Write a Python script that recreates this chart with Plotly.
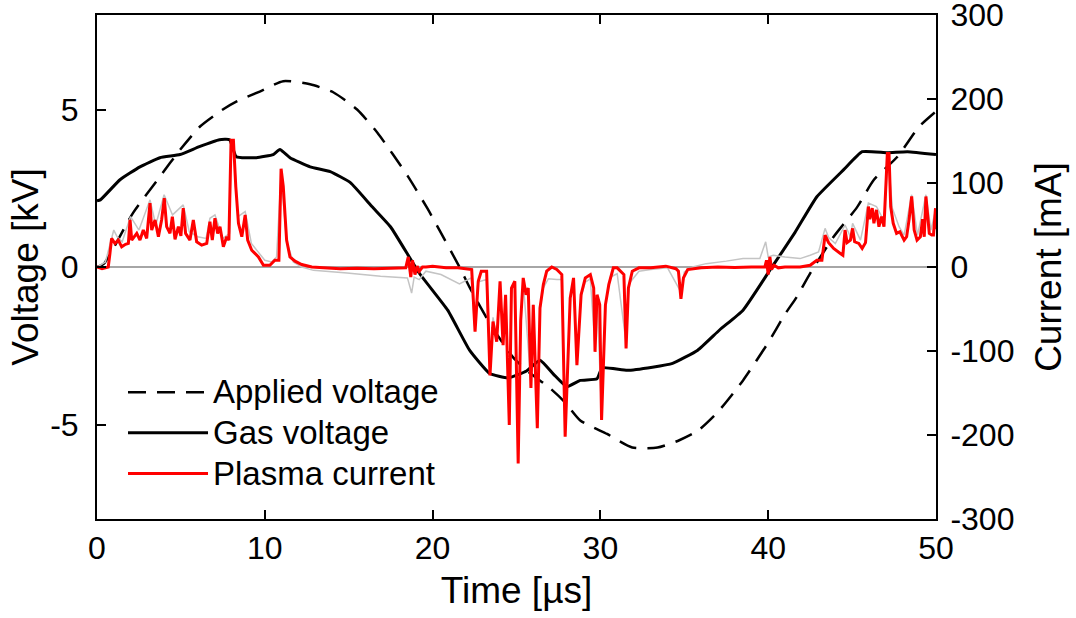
import plotly.graph_objects as go

# ---------------- data ----------------
t_applied = [0, 0.4, 2.15, 3.75, 4.95, 6.14, 7.5, 8.3, 9.7, 11.1, 12.7, 14.1, 15.5, 16.7,
             18.5, 19.7, 20.4, 21.6, 22.2, 23.4, 24.8, 25.6, 27.0, 27.9, 28.8, 30.4, 31.9,
             33.4, 34.7, 35.8, 37.0, 38.5, 40.0, 41.0, 41.7, 42.5, 43.9, 45.3, 46.3, 47.7,
             49.0, 50.0]
v_applied = [0, 0.1, 1.72, 2.87, 3.72, 4.46, 5.0, 5.25, 5.57, 5.9, 5.8, 5.54, 5.0, 4.27,
             2.9, 1.85, 1.18, 0.0, -0.64, -1.78, -2.87, -3.28, -3.85, -4.3, -4.87, -5.3, -5.73,
             -5.73, -5.5, -5.2, -4.6, -3.6, -2.4, -1.5, -0.95, -0.2, 0.96, 1.9, 2.77, 3.5,
             4.46, 4.94]

t_gas = [0, 0.2, 1.37, 2.56, 3.75, 4.95, 6.1, 7.3, 7.9, 8.3, 9.5, 10.5, 10.9, 11.5, 12.7,
         13.9, 15.1, 16.4, 17.5, 19.2, 20.9, 22.2, 23.4, 24.5, 25.6, 26.4, 27.2, 28.0, 28.8,
         29.8, 30.1, 31.6, 33.1, 34.3, 35.8, 37.1, 38.5, 40.1, 41.6, 42.9, 44.5, 45.6, 47.1,
         48.3, 50.0]
v_gas = [2.1, 2.13, 2.77, 3.18, 3.47, 3.57, 3.82, 4.04, 4.04, 3.5, 3.47, 3.57, 3.73, 3.47, 3.18,
         3.03, 2.68, 1.91, 1.27, -0.19, -1.37, -2.64, -3.38, -3.52, -3.3, -2.96, -3.4, -3.8, -3.6,
         -3.55, -3.2, -3.28, -3.18, -3.06, -2.64, -2.0, -1.37, -0.1, 1.1, 2.23, 3.09, 3.66, 3.63,
         3.66, 3.57]

t_cur = [0, 0.3, 0.5, 0.67, 0.77, 0.87, 1.07, 1.27, 1.47, 1.7, 1.87, 1.97, 2.07, 2.37, 2.56,
         2.76, 2.96, 3.16, 3.26, 3.46, 3.66, 3.85, 4.01, 4.15, 4.35, 4.49, 4.65, 4.85, 5.0,
         5.14, 5.28, 5.54, 5.74, 5.94, 6.24, 6.54, 6.73, 6.87, 7.03, 7.19, 7.33, 7.53, 7.73,
         7.86, 7.99, 8.13, 8.27, 8.43, 8.63, 8.83, 8.98, 9.22, 9.62, 9.92, 10.3, 10.6, 10.84,
         10.97, 11.1, 11.3, 11.5, 11.8, 12.2, 12.8, 13.5, 14.5, 15.5, 16.5, 17.5, 18.4, 18.55,
         18.7, 18.8, 18.95, 19.08, 19.2, 19.4, 19.6, 20.0, 20.8, 21.5, 22.0, 22.33, 22.53,
         22.72, 22.9, 23.22, 23.42, 23.6, 23.82, 24.02, 24.2, 24.35, 24.57, 24.7, 24.9, 25.1,
         25.25, 25.4, 25.57, 25.7, 25.86, 26.0, 26.24, 26.4, 26.6, 26.8, 27.1, 27.4, 27.7,
         27.9, 28.2, 28.4, 28.6, 28.85, 29.1, 29.4, 29.6, 29.68, 29.8, 29.96, 30.07, 30.3,
         30.5, 30.77, 31.0, 31.2, 31.4, 31.53, 31.67, 31.9, 32.3, 33.0, 33.9, 34.5, 34.65,
         34.8, 34.95, 35.2, 36.0, 37.0, 38.0, 39.0, 39.8, 39.9, 40.0, 40.1, 40.2, 40.35, 40.6,
         41.0, 41.9, 42.5, 42.9, 43.2, 43.39, 43.6, 43.9, 44.3, 44.45, 44.58, 44.7, 44.9,
         45.03, 45.15, 45.4, 45.6, 45.8, 45.97, 46.05, 46.2, 46.3, 46.45, 46.6, 46.75, 46.9,
         47.1, 47.2, 47.3, 47.45, 47.65, 47.85, 48.1, 48.25, 48.4, 48.55, 48.7, 48.87, 49.07,
         49.2, 49.3, 49.4, 49.6, 49.75, 49.85, 49.97, 50.0]
i_plasma = [0, -2, -1, 0, 16, 34, 28, 32, 24, 27, 28, 56, 32, 40, 32,
            44, 34, 76, 44, 56, 36, 56, 82, 48, 40, 60, 33, 48, 37,
            70, 40, 32, 56, 30, 26, 28, 54, 32, 58, 40, 48, 24, 36,
            32, 151, 151, 96, 52, 36, 62, 32, 20, 12, 2, 2, 8, 8,
            117, 96, 32, 12, 7, 3, 0, -1, -2, -1.5, -2, -1.5, -1, 12,
            -12, 8, -9, 1, -5, 0, 0, 1, -1, -1, -2, -3, -77,
            -17, -5, -5, -129, -65, -89, -17, -93, -33, -188, -25, -17, -234,
            -64, -13, -33, -25, -144, -45, -192, -49, -21, -5, 0, -3, -9,
            -202, -37, -13, -117, -33, -13, -9, -25, -101, -33, -45, -182, -45,
            -21, -1, -1, -5, -9, -97, -25, -5, -1, -1, 1, -2, -5,
            -38, -13, -3, -1, 0, -0.5, 0, 0, 8, -9, 12, -3, 2, -1,
            0, 0, 2, 8, 8, 38, 29, 22, 16, 14, 44, 29, 32,
            46, 30, 28, 22, 29, 72, 57, 70, 52, 68, 48, 60, 48,
            135, 135, 72, 52, 40, 42, 32, 36, 57, 84, 44, 32, 36,
            57, 36, 84, 40, 38, 38, 70, 45]

t_raw = [0, 0.5, 1.0, 1.2, 1.5, 2.0, 2.5, 3.16, 3.5, 4.0, 4.5, 5.14, 5.5, 6.0, 6.5, 6.73, 7.03,
         7.5, 7.9, 8.0, 8.13, 8.4, 8.83, 9.2, 9.6, 10.0, 10.4, 10.7, 10.97, 11.3, 11.7, 12.2,
         12.9, 14.9, 16.9, 18.5, 18.75, 18.9, 19.2, 19.6, 20.5, 21.6, 22.3, 22.5, 22.7, 23.2,
         23.42, 23.6, 23.82, 24.02, 24.2, 24.35, 24.57, 24.7, 24.9, 25.1, 25.25, 25.4, 25.86,
         26.0, 26.24, 26.4, 26.6, 26.9, 27.4, 27.7, 27.9, 28.2, 28.4, 28.6, 28.85, 29.1, 29.4,
         29.68, 29.8, 30.07, 30.3, 30.6, 31.0, 31.53, 31.7, 32.3, 33.0, 34.0, 34.8, 35.0, 35.5,
         36.3, 37.5, 38.5, 39.5, 39.85, 40.0, 40.3, 41.0, 41.9, 42.5, 43.0, 43.39, 43.6, 44.0,
         44.58, 44.9, 45.03, 45.5, 45.97, 46.45, 46.9, 47.15, 47.4, 47.8, 48.1, 48.55, 48.9,
         49.4, 49.7, 50.0]
i_raw = [0, 6, 44, 36, 30, 60, 44, 80, 50, 86, 62, 74, 42, 36, 34, 58, 62,
         34, 40, 145, 148, 60, 66, 28, 18, 8, 6, 12, 110, 30, 6, 0,
         -4, -7, -11, -13, -31, -12, -15, -5, -9, -20, -13, -70, -18, -15,
         -120, -60, -85, -20, -88, -35, -180, -28, -20, -225, -60, -18, -138,
         -45, -185, -50, -25, -14, -15, -15, -195, -38, -18, -112, -35, -18, -14,
         -96, -35, -175, -45, -12, -8, -90, -20, -5, -3, -1, -30, -6, 0,
         4, 7, 10, 10, 30, 12, 14, 12, 10, 14, 18, 46, 35, 28,
         50, 36, 52, 32, 76, 72, 55, 130, 70, 48, 38, 86, 38,
         86, 44, 70]

x_ticks = [0, 10, 20, 30, 40, 50]
v_ticks = [-5, 0, 5]
i_ticks = [-300, -200, -100, 0, 100, 200, 300]

FONT = "Arial, Liberation Sans, sans-serif"
TICK = 32
TITLE = 37


def big(name):
    return '<span style="font-size:33px">' + name + '</span>'


fig = go.Figure()
fig.add_trace(go.Scatter(x=t_raw, y=i_raw, yaxis="y2", mode="lines",
                         line=dict(color="#c4c4c4", width=1.5), showlegend=False,
                         hoverinfo="skip"))
fig.add_trace(go.Scatter(x=t_applied, y=v_applied, mode="lines", name=big("Applied voltage"),
                         line=dict(color="black", width=2.5, dash="18px,11px",
                                   shape="spline", smoothing=0.6)))
fig.add_trace(go.Scatter(x=t_gas, y=v_gas, mode="lines", name=big("Gas voltage"),
                         line=dict(color="black", width=3, shape="spline", smoothing=0.4)))
fig.add_trace(go.Scatter(x=t_cur, y=i_plasma, yaxis="y2", mode="lines",
                         name=big("Plasma current"),
                         line=dict(color="#ff0000", width=3)))

fig.update_layout(
    width=1076, height=618,
    margin=dict(l=97, r=140, t=15, b=99, autoexpand=False),
    paper_bgcolor="white", plot_bgcolor="white",
    font=dict(family=FONT, size=TICK, color="black"),
    xaxis=dict(range=[0, 50], tickvals=x_ticks, ticktext=[str(v) for v in x_ticks],
               ticks="inside", ticklen=9, tickwidth=2, automargin=False,
               tickcolor="black", showline=True, linecolor="black", linewidth=2,
               mirror="ticks", showgrid=False, zeroline=False, ticklabeloverflow="allow",
               title=dict(text="Time [µs]", font=dict(size=TITLE), standoff=12),
               tickfont=dict(size=TICK)),
    yaxis=dict(range=[-8, 8], tickvals=v_ticks, ticktext=[str(v) for v in v_ticks],
               ticks="inside", ticklen=9, tickwidth=2, automargin=False,
               tickcolor="black", showline=True, linecolor="black", linewidth=2,
               showgrid=False, zeroline=True, zerolinecolor="#a6a6a6", zerolinewidth=1.5,
               ticklabeloverflow="allow",
               title=dict(text="Voltage [kV]", font=dict(size=TITLE), standoff=0),
               tickfont=dict(size=TICK), ticklabelstandoff=10),
    yaxis2=dict(range=[-300, 300], tickvals=i_ticks, ticktext=[str(v) for v in i_ticks],
                ticks="inside", ticklen=9, tickwidth=2, automargin=False,
                tickcolor="black", showline=True, linecolor="black", linewidth=2,
                overlaying="y", side="right", showgrid=False, zeroline=False,
                ticklabeloverflow="allow",
                title=dict(text="Current [mA]", font=dict(size=TITLE), standoff=22),
                tickfont=dict(size=TICK), ticklabelstandoff=6),
    legend=dict(x=0.031, y=0.302, xanchor="left", yanchor="top", bgcolor="rgba(0,0,0,0)",
                font=dict(size=29), itemwidth=80, tracegroupgap=0),
)

fig.write_html("out.html", config={"displayModeBar": False},
               post_script="document.body.style.margin='0px';")
